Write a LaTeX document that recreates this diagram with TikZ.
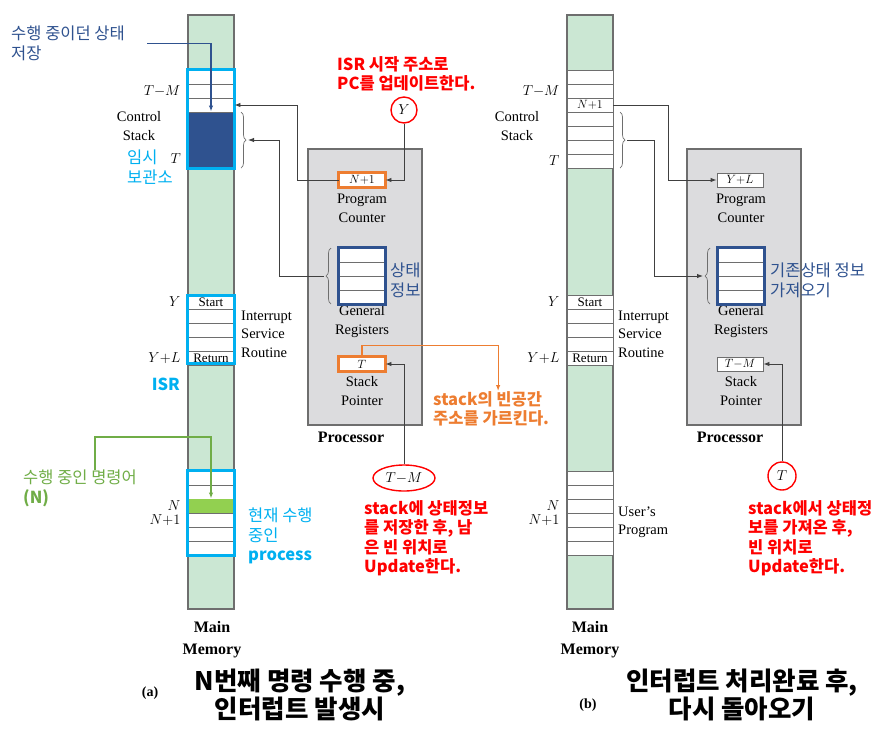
\documentclass[tikz,border=0pt]{standalone}
\usepackage{fontspec}
\setmainfont{Liberation Serif}
\newfontfamily\kr{Noto Sans CJK KR}
\usetikzlibrary{arrows.meta,positioning,calc,shapes.geometric,decorations.pathreplacing}

\definecolor{memgreen}{HTML}{CBE7D3}
\definecolor{procgray}{HTML}{DCDCDE}
\definecolor{linegray}{HTML}{6E6E6E}
\definecolor{savedblue}{HTML}{2F528F}
\definecolor{isrcyan}{HTML}{00B0F0}
\definecolor{sporange}{HTML}{ED7D31}
\definecolor{curgreen}{HTML}{70AD47}
\definecolor{curfill}{HTML}{92D050}

\begin{document}
\begin{tikzpicture}[x=1pt,y=-1pt,
    cell/.style={draw=linegray,fill=white,line width=0.9pt,minimum width=46pt,
      minimum height=14pt,inner sep=0pt,font=\fontsize{13}{13}\selectfont},
    memcol/.style={draw=linegray,fill=memgreen,line width=1.4pt,minimum width=46pt,
      minimum height=594pt,inner sep=0pt},
    procbox/.style={draw=linegray,fill=procgray,line width=1.2pt,minimum width=114pt,
      minimum height=276pt,inner sep=0pt},
    txt/.style={inner sep=0pt,align=center,font=\fontsize{14.5}{18.5}\selectfont},
    mlbl/.style={inner sep=0pt,font=\fontsize{14}{16}\selectfont},
    boldtxt/.style={inner sep=0pt,align=center,font=\bfseries\fontsize{16}{22}\selectfont},
    note/.style={inner sep=0pt,align=left,anchor=north west,font=\kr\fontsize{16.5}{19.5}\selectfont},
    bnote/.style={note,font=\kr\bfseries\fontsize{16.5}{19.5}\selectfont},
    title/.style={inner sep=0pt,align=center,font=\kr\bfseries\fontsize{25.5}{26}\selectfont},
    hl/.style={line width=3.5pt},
    arr/.style={-{Latex[length=6pt,width=4.5pt]},draw=black!75,line width=0.9pt},
    grb/.style={decorate,decoration={brace,amplitude=5pt},draw=linegray,line width=0.7pt},
    ring/.style={draw=red,line width=1.4pt,inner sep=0pt,font=\fontsize{14}{16}\selectfont},
  ]
  \useasboundingbox (0,0) rectangle (889,740);

  % (a) interrupt occurs
  \node[memcol] (mem-a) at (211,312) {};
  \foreach \i/\y in {1/77,2/91,3/105}
    \node[cell] (ua\i) at (211,\y) {};
  \node[cell,fill=savedblue,minimum height=56pt] (tmp-a) at (211,140) {};
  \foreach \i/\y/\t in {1/302/Start,2/316/,3/330/,4/344/,5/358/Return}
    \node[cell] (ia\i) at (211,\y) {\t};
  \foreach \i/\y in {1/478,2/492,3/506,4/520,5/534,6/548}
    \node[cell] (pa\i) at (211,\y) {};
  \fill[curfill] (pa3.north west) rectangle (pa3.south east);

  \node[mlbl,left=7pt of ua2] {$T{-}M$};
  \node[mlbl,anchor=east] at (181,159) {$T$};
  \node[mlbl,left=7pt of ia1] {$Y$};
  \node[mlbl,left=7pt of ia5] {$Y{+}L$};
  \node[mlbl,left=7pt of pa3] {$N$};
  \node[mlbl,left=7pt of pa4] {$N{+}1$};
  \node[txt] (cs-a) at (139,126) {Control\\Stack};
  \node[txt,align=left,anchor=west] (isr-a) at (241,334) {Interrupt\\Service\\Routine};
  \node[boldtxt] (mm-a) at (212,640) {Main\\Memory};

  \node[procbox] (proc-a) at (365,287) {};
  \node[boldtxt] at (351,437) {Processor};
  \node[cell] (pc-a) at (362,180) {$N{+}1$};
  \node[txt] at (362,208.5) {Program\\Counter};
  \foreach \i/\y in {1/255,2/269,3/283,4/297}
    \node[cell] (ra\i) at (362,\y) {};
  \node[txt] at (362,321.5) {General\\Registers};
  \node[cell] (sp-a) at (362,364) {$T$};
  \node[txt] at (362,391) {Stack\\Pointer};

  \draw[grb] (241,112) -- (241,168);
  \coordinate (cbr-a) at (248,140);
  \draw[grb] (331,304) -- (331,248);
  \coordinate (rbr-a) at (324,276);

  \node[ring,circle,minimum size=26pt] (y-a) at (404,110) {$Y$};
  \node[ring,ellipse,minimum width=62pt,minimum height=26pt] (tm-a) at (404,478) {$T{-}M$};

  % highlights
  \draw[hl,isrcyan] (ua1.north west) rectangle (tmp-a.south east);
  \draw[hl,isrcyan] ([yshift=-1pt]ia1.north west) rectangle ([yshift=2pt]ia5.south east);
  \draw[hl,isrcyan] (pa1.north west) rectangle (pa6.south east);
  \draw[hl,sporange] (pc-a.north west) rectangle (pc-a.south east);
  \draw[hl,sporange] (sp-a.north west) rectangle (sp-a.south east);
  \draw[hl,savedblue] (ra1.north west) rectangle (ra4.south east);

  % notes
  \node[note,savedblue] (save-a) at (11,26) {수행 중이던 상태\\저장};
  \node[note,isrcyan] (tmpn-a) at (127,150) {임시\\보관소};
  \node[bnote,isrcyan,anchor=east] (isrn-a) at (180,384) {ISR};
  \node[note,curgreen] (cur-a) at (23,470) {수행 중인 명령어\\\textbf{(N)}};
  \node[note,isrcyan] (now-a) at (248,508) {현재 수행\\중인\\\textbf{process}};
  \node[bnote,red] (pcn-a) at (337,56) {ISR 시작 주소로\\PC를 업데이트한다.};
  \node[bnote,sporange] (sfree-a) at (433,391) {stack의 빈공간\\주소를 가르킨다.};
  \node[bnote,red] (upd-a) at (364,500) {stack에 상태정보\\를 저장한 후, 남\\은 빈 위치로\\Update한다.};
  \node[note,savedblue] (regn-a) at (390,263) {상태\\정보};

  % connectors
  \draw[arr] (pc-a.west) -- ++(-41,0) |- (ua3.east);
  \draw[arr] (rbr-a) -- ++(-45,0) |- (cbr-a);
  \draw[arr] (y-a.south) |- (pc-a.east);
  \draw[arr] (tm-a.north) |- (sp-a.east);
  \draw[arr,draw=sporange,line width=1.2pt] (sp-a.north) -- ++(0,-11) -| ([xshift=7pt]sfree-a.north);
  \draw[arr,draw=savedblue,line width=1.4pt] ([xshift=22pt]save-a.east) -| (tmp-a.north);
  \draw[arr,draw=curgreen,line width=1.4pt] ([xshift=15pt]cur-a.north) -- ++(0,-33) -| (pa3.north);

  \node[font=\bfseries\fontsize{14}{16}\selectfont] (lab-a) at (150,693) {(a)};

  % (b) return from interrupt
  \begin{scope}[xshift=379pt]
  \node[memcol] (mem-b) at (211,312) {};
  \foreach \i/\y/\t in {1/77/,2/91/,3/105/$N{+}1$,4/119/,5/133/,6/147/,7/161/}
    \node[cell] (ub\i) at (211,\y) {\t};
  \foreach \i/\y/\t in {1/302/Start,2/316/,3/330/,4/344/,5/358/Return}
    \node[cell] (ib\i) at (211,\y) {\t};
  \foreach \i/\y in {1/478,2/492,3/506,4/520,5/534,6/548}
    \node[cell] (pb\i) at (211,\y) {};

  \node[mlbl,left=7pt of ub2] {$T{-}M$};
  \node[mlbl,left=7pt of ub7] {$T$};
  \node[mlbl,left=7pt of ib1] {$Y$};
  \node[mlbl,left=7pt of ib5] {$Y{+}L$};
  \node[mlbl,left=7pt of pb3] {$N$};
  \node[mlbl,left=7pt of pb4] {$N{+}1$};
  \node[txt] (cs-b) at (138,126) {Control\\Stack};
  \node[txt,align=left,anchor=west] (isr-b) at (239,334) {Interrupt\\Service\\Routine};
  \node[txt,align=left,anchor=west] (usr-b) at (239,522) {User's\\Program};
  \node[boldtxt] (mm-b) at (211,640) {Main\\Memory};

  \node[procbox] (proc-b) at (365,287) {};
  \node[boldtxt] at (351,437) {Processor};
  \node[cell] (pc-b) at (361,180) {$Y{+}L$};
  \node[txt] at (362,208.5) {Program\\Counter};
  \foreach \i/\y in {1/255,2/269,3/283,4/297}
    \node[cell] (rb\i) at (362,\y) {};
  \node[txt] at (362,321.5) {General\\Registers};
  \node[cell] (sp-b) at (361,364) {$T{-}M$};
  \node[txt] at (362,391) {Stack\\Pointer};

  \draw[grb] (241,112) -- (241,168);
  \coordinate (cbr-b) at (248,140);
  \draw[grb] (331,304) -- (331,248);
  \coordinate (rbr-b) at (324,276);

  \node[ring,circle,minimum size=28pt] (t-b) at (403,476) {$T$};
  \draw[hl,savedblue] (rb1.north west) rectangle (rb4.south east);

  \node[note,savedblue] (regn-b) at (391,263) {기존상태 정보\\가져오기};
  \node[bnote,red] (upd-b) at (369,500) {stack에서 상태정\\보를 가져온 후,\\빈 위치로\\Update한다.};

  \draw[arr] (ub3.east) -- ++(55,0) |- (pc-b.west);
  \draw[arr] (cbr-b) -- ++(27,0) |- (rbr-b);
  \draw[arr] (t-b.north) |- (sp-b.east);

  \node[font=\bfseries\fontsize{14}{16}\selectfont] (lab-b) at (209,705) {(b)};
  \end{scope}

  % titles
  \node[title] (ttl-a) at (300,695) {N번째 명령 수행 중,\\인터럽트 발생시};
  \node[title] (ttl-b) at (742,695) {인터럽트 처리완료 후,\\다시 돌아오기};
\end{tikzpicture}
\end{document}
